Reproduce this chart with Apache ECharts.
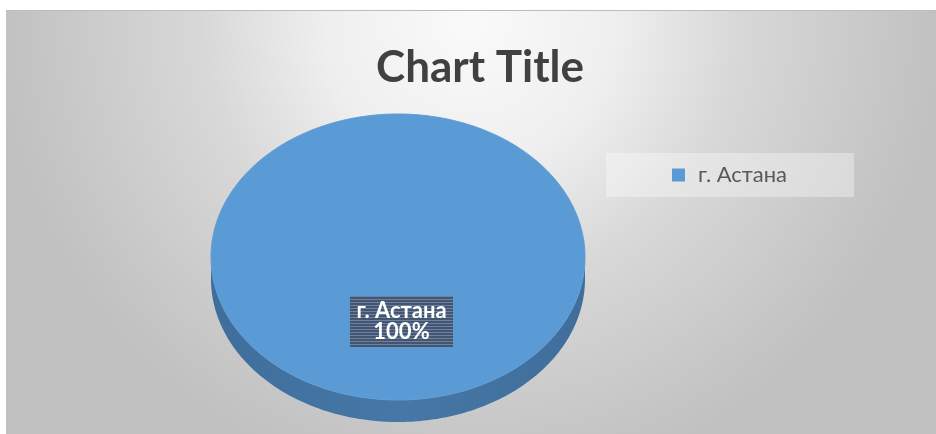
<!DOCTYPE html>
<html>
<head>
<meta charset="utf-8">
<script src="https://cdn.jsdelivr.net/npm/echarts@6/dist/echarts.min.js"></script>
<style>
  html, body { margin: 0; padding: 0; background: #ffffff; }
  #chart { width: 936px; height: 434px; }
</style>
</head>
<body>
<div id="chart"></div>
<script>
// ---- data ----
const titleText = 'Chart Title';
const categories = ['г. Астана'];
const values = [100];
const sliceColors = ['#5b9bd5'];
const sideColors = ['#4677a6'];

// ---- layout ----
const CX = 398, CY = 257, RX = 187, RY = 143, DEPTH = 22;

const total = values.reduce((a, b) => a + b, 0);

function ellipsePts(a0, a1, dy) {
  const n = Math.max(8, Math.ceil((a1 - a0) / (Math.PI / 180)));
  const pts = [];
  for (let i = 0; i <= n; i++) {
    const t = a0 + (a1 - a0) * i / n;
    pts.push([CX + RX * Math.cos(t), CY + RY * Math.sin(t) + dy]);
  }
  return pts;
}

// stripe pattern for the label box
const pat = document.createElement('canvas');
pat.width = 4; pat.height = 3;
(function () {
  const c = pat.getContext('2d');
  c.fillStyle = '#46556d'; c.fillRect(0, 0, 4, 3);
  c.fillStyle = '#6882a8'; c.fillRect(0, 2, 4, 1);
})();

function renderItem(params, api) {
  const i = params.dataIndex;
  let before = 0;
  for (let k = 0; k < i; k++) before += values[k];
  const share = values[i] / total;
  const a0 = -Math.PI / 2 + 2 * Math.PI * before / total;
  const a1 = a0 + 2 * Math.PI * share;
  const children = [];

  // visible side (front half of the ellipse)
  for (let k = -1; k <= 1; k++) {
    const s = Math.max(a0, 2 * Math.PI * k);
    const e = Math.min(a1, Math.PI + 2 * Math.PI * k);
    if (e > s) {
      const top = ellipsePts(s, e, 0);
      const bot = ellipsePts(s, e, DEPTH).reverse();
      children.push({
        type: 'polygon',
        shape: { points: top.concat(bot) },
        style: {
          fill: {
            type: 'linear', x: CX - RX, y: 0, x2: CX + RX, y2: 0, global: true,
            colorStops: [
              { offset: 0, color: '#3f6e9b' },
              { offset: 0.5, color: sideColors[i % sideColors.length] },
              { offset: 1, color: '#3f6e9b' }
            ]
          }
        }
      });
    }
  }

  // top face
  let pts = ellipsePts(a0, a1, 0);
  if (share < 0.9999) pts = [[CX, CY]].concat(pts);
  children.push({
    type: 'polygon',
    shape: { points: pts },
    style: { fill: sliceColors[i % sliceColors.length], stroke: '#5f9ed6', lineWidth: 1 }
  });

  // data label
  const mid = (a0 + a1) / 2;
  const lx = share >= 0.9999 ? CX + 3.5 : CX + RX * 0.6 * Math.cos(mid);
  const ly = share >= 0.9999 ? CY + 64.5 : CY + RY * 0.6 * Math.sin(mid);
  const pct = Math.round(share * 100) + '%';
  children.push({
    type: 'rect',
    shape: { x: lx - 51.5, y: ly - 25.5, width: 103, height: 51 },
    style: { fill: { image: pat, repeat: 'repeat' } }
  });
  children.push({
    type: 'text',
    style: {
      text: categories[i], x: lx, y: ly - 11,
      align: 'center', verticalAlign: 'middle',
      textAlign: 'center', textVerticalAlign: 'middle',
      fill: '#ffffff', font: 'bold 22px Lato'
    }
  });
  children.push({
    type: 'text',
    style: {
      text: pct, x: lx, y: ly + 10.5,
      align: 'center', verticalAlign: 'middle',
      textAlign: 'center', textVerticalAlign: 'middle',
      fill: '#ffffff', font: 'bold 22px Lato'
    }
  });
  return { type: 'group', children: children };
}

const chart = echarts.init(document.getElementById('chart'), null, { renderer: 'canvas' });
chart.setOption({
  animation: false,
  graphic: [
    {
      type: 'rect', z: -10,
      shape: { x: 6, y: 10, width: 930, height: 424 },
      style: {
        fill: {
          type: 'radial', x: 470, y: 20, r: 480, global: true,
          colorStops: [
            { offset: 0, color: '#fafafa' },
            { offset: 0.3, color: '#efefef' },
            { offset: 0.56, color: '#d8d8d8' },
            { offset: 0.88, color: '#c6c6c6' },
            { offset: 1, color: '#c0c0c0' }
          ]
        }
      }
    },
    {
      type: 'line', z: -9,
      shape: { x1: 6, y1: 10.5, x2: 936, y2: 10.5 },
      style: { stroke: '#bcbcbc', lineWidth: 1 }
    },
    {
      type: 'rect', z: -8,
      shape: { x: 606, y: 153, width: 248, height: 44 },
      style: { fill: 'rgba(255,255,255,0.35)' }
    }
  ],
  title: {
    text: titleText,
    left: 475,
    textAlign: 'center',
    top: 41,
    textStyle: { fontFamily: 'Lato', fontWeight: 'bold', fontSize: 44, color: '#404040' }
  },
  legend: {
    data: categories,
    left: 672,
    top: 164,
    padding: 0,
    icon: 'rect',
    itemWidth: 13,
    itemHeight: 13,
    textStyle: { fontFamily: 'Lato', fontSize: 22, color: '#595959', padding: [0, 0, 0, 8] }
  },
  series: [{
    type: 'custom',
    name: categories[0],
    coordinateSystem: 'none',
    itemStyle: { color: sliceColors[0] },
    data: values.map((v, i) => ({ name: categories[i], value: v })),
    renderItem: renderItem
  }]
});
</script>
</body>
</html>
